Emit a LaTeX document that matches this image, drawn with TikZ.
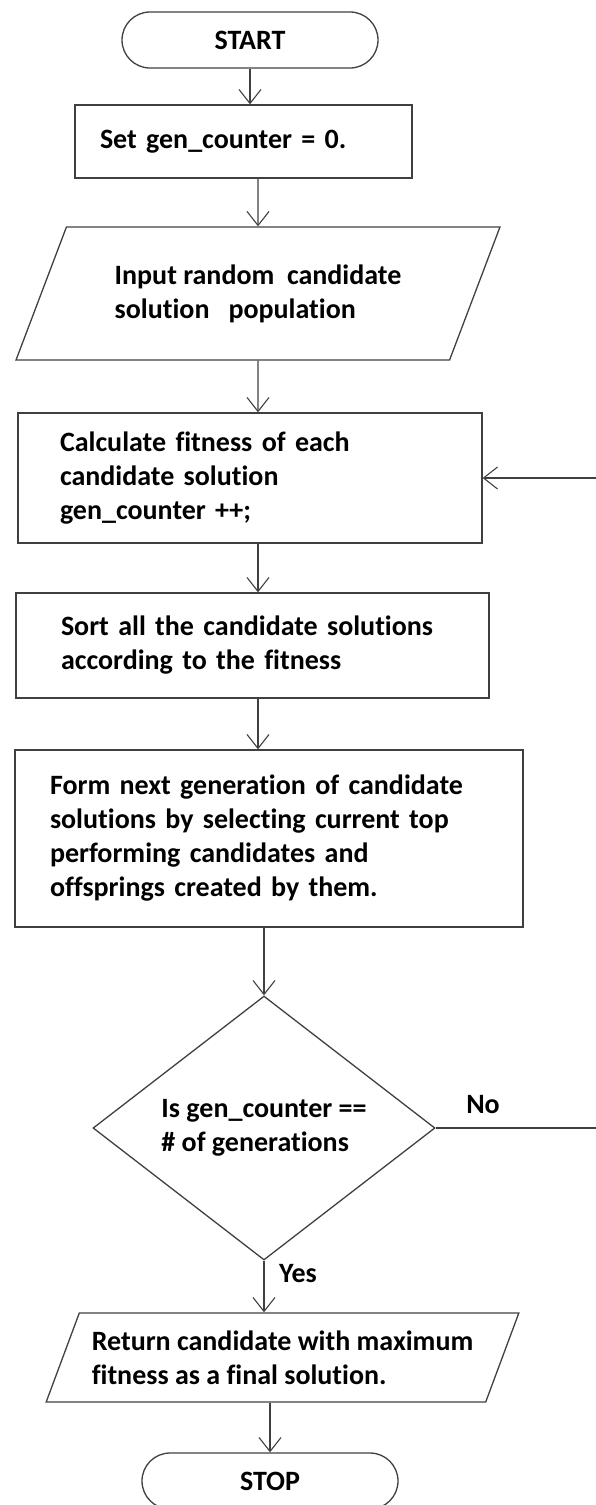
\documentclass[tikz,border=0pt]{standalone}
\usepackage{fontspec}
\setmainfont{Carlito}[Ligatures=NoCommon]
\usetikzlibrary{arrows.meta, shapes.geometric, shapes.misc}

\begin{document}
\begin{tikzpicture}[
x=1pt, y=-1pt,
line width=1.3pt,
font=\fontsize{28}{34}\selectfont\bfseries,
flowline/.style={
draw=black!75,
-{Straight Barb[length=14pt, width=22pt, line width=1.1pt]},
},
terminal/.style={
rounded rectangle,
draw=black!75,
minimum width=256pt,
minimum height=56pt,
inner sep=0pt,
},
process/.style={
rectangle,
draw=black!75,
align=left,
inner ysep=0pt,
},
inout/.style={
trapezium,
trapezium stretches=true,
draw=black!75,
align=left,
inner sep=0pt,
},
decision/.style={
diamond,
draw=black!75,
align=left,
inner sep=0pt,
}
]

\useasboundingbox (0,0) rectangle (595,1505);

% main axis of the chart
\coordinate (axis) at (258,0);

% flow nodes
\node [terminal] (start) at (250,40) {START};
\node [process, minimum height=73pt, inner xsep=25pt, text width=287pt]
(set) at (243.5,141.5) {Set gen\_counter = 0.};
\node [inout, trapezium left angle=57, trapezium right angle=123,
minimum width=484pt, minimum height=133pt]
(input) at (258,293.5) {Input random\ \ candidate\\solution\ \ \ population};
\node [process, minimum height=130pt, inner xsep=42pt, text width=380pt]
(calc) at (250,478) {Calculate fitness of each\\candidate solution\\gen\_counter ++;};
\node [process, minimum height=105pt, inner xsep=45pt, text width=383pt]
(sort) at (252.5,645.5) {Sort all the candidate solutions\\according to the fitness};
\node [process, minimum height=177pt, inner xsep=35pt, text width=438pt]
(form) at (269,838.5) {Form next generation of candidate\\solutions by selecting current top\\performing candidates and\\offsprings created by them.};
\node [decision, minimum width=342pt, minimum height=264pt]
(check) at (264,1128) {Is gen\_counter ==\\\# of generations};
\node [inout, trapezium left angle=60, trapezium right angle=120,
minimum width=475pt, minimum height=89pt]
(ret) at (282.5,1357.5) {Return candidate with maximum\\fitness as a final solution.};
\node [terminal] (stop) at (270,1481) {STOP};

% branch labels
\node (no) at (483,1105) {No};
\node (yes) at (298,1274) {Yes};

% connectors
\draw [flowline] (start.south) -- (start.south |- set.north);
\draw [flowline] (set.south -| axis) -- (input.north);
\draw [flowline] (input.south) -- (calc.north -| axis);
\draw [flowline] (calc.south -| axis) -- (sort.north -| axis);
\draw [flowline] (sort.south -| axis) -- (form.north -| axis);
\draw [flowline] (check.north |- form.south) -- (check.north);
\draw [flowline] (check.south) -- (check.south |- ret.north);
\draw [flowline] (ret.south -| stop.north) -- (stop.north);

% loop back when more generations remain
\draw [flowline] (check.east) -- ++(165,0) |- (calc.east);

\end{tikzpicture}
\end{document}
